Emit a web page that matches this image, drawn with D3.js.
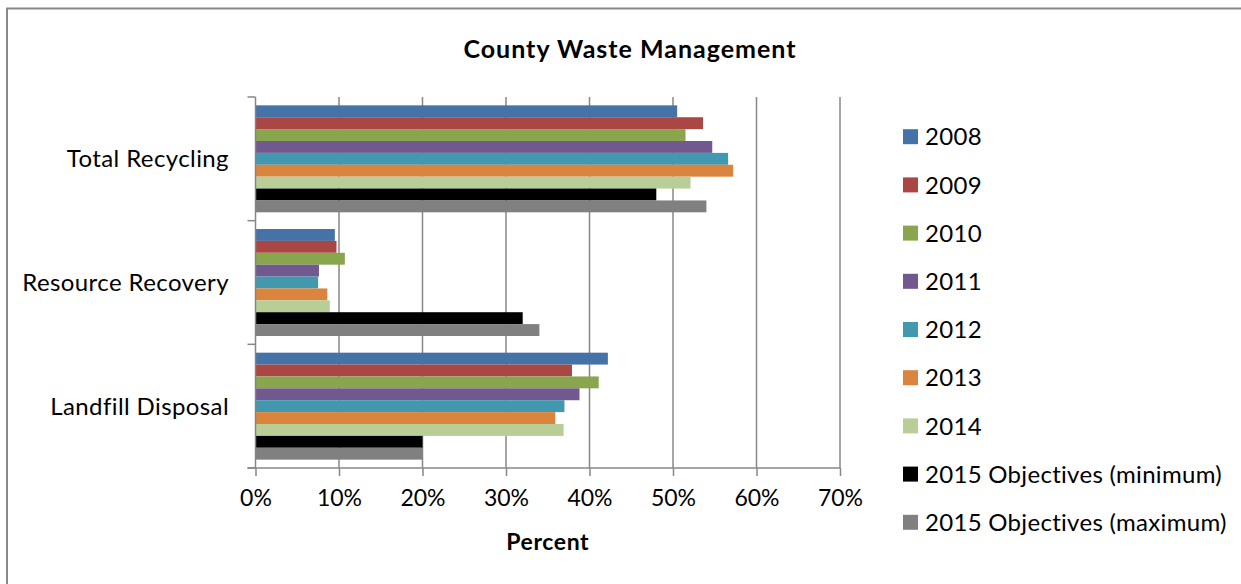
<!DOCTYPE html>
<html>
<head>
<meta charset="utf-8">
<script src="https://cdn.jsdelivr.net/npm/d3@7"></script>
<style>
  html, body { margin: 0; padding: 0; background: #fff; }
  svg { display: block; }
  text { font-family: Lato, "Open Sans", sans-serif; fill: #000; }
</style>
</head>
<body>
<svg id="chart" width="1241" height="584"></svg>
<script>
// Waste streams (top to bottom) and the series drawn in each group
const categories = ["Total Recycling", "Resource Recovery", "Landfill Disposal"];
const seriesNames = ["2008", "2009", "2010", "2011", "2012", "2013", "2014",
  "2015 Objectives (minimum)", "2015 Objectives (maximum)"];
const seriesColors = ["#4572A7", "#AA4643", "#89A54E", "#71588F", "#4198AF",
  "#DB843D", "#B9CD96", "#000000", "#808080"];

// Share of county waste (percent), one array per series, in category order
const v2008 = [50.5, 9.5, 42.2];
const v2009 = [53.6, 9.7, 37.9];
const v2010 = [51.5, 10.7, 41.1];
const v2011 = [54.7, 7.6, 38.8];
const v2012 = [56.6, 7.5, 37.0];
const v2013 = [57.2, 8.6, 35.9];
const v2014 = [52.1, 8.9, 36.9];
const vMin2015 = [48.0, 32.0, 20.0];
const vMax2015 = [54.0, 34.0, 20.0];
const seriesValues = [v2008, v2009, v2010, v2011, v2012, v2013, v2014, vMin2015, vMax2015];

const xTicks = [0, 10, 20, 30, 40, 50, 60, 70];

const svg = d3.select("#chart");
const plot = { left: 255.5, right: 840, top: 97, bottom: 468 };

// Chart frame
svg.append("rect")
  .attr("x", 7).attr("y", 8.5)
  .attr("width", 1300).attr("height", 700)
  .attr("fill", "none").attr("stroke", "#898989").attr("stroke-width", 2);

// Title
svg.append("text")
  .attr("x", 630).attr("y", 58)
  .attr("text-anchor", "middle")
  .style("font-weight", "bold").style("font-size", "25px")
  .style("letter-spacing", "1px")
  .text("County Waste Management");

const x = d3.scaleLinear().domain([0, 70]).range([plot.left, plot.right]);
const y0 = d3.scaleBand().domain(categories)
  .range([plot.top, plot.bottom])
  .paddingInner(0.135).paddingOuter(0.0675);
const y1 = d3.scaleBand().domain(seriesNames).range([0, y0.bandwidth()]);
const color = d3.scaleOrdinal().domain(seriesNames).range(seriesColors);

// Vertical gridlines
svg.append("g").selectAll("line")
  .data(xTicks.filter(t => t > 0))
  .join("line")
  .attr("x1", d => x(d)).attr("x2", d => x(d))
  .attr("y1", plot.top).attr("y2", plot.bottom)
  .attr("stroke", "#878787").attr("stroke-width", 1.5);

// Bars
const groups = svg.append("g").selectAll("g")
  .data(categories)
  .join("g")
  .attr("transform", d => `translate(0,${y0(d)})`);

groups.selectAll("rect")
  .data((c, ci) => seriesNames.map((s, si) => ({ s, v: seriesValues[si][ci] })))
  .join("rect")
  .attr("x", x(0))
  .attr("y", d => y1(d.s))
  .attr("width", d => x(d.v) - x(0))
  .attr("height", y1.bandwidth())
  .attr("fill", d => color(d.s));

// X axis
const xAxis = svg.append("g")
  .attr("transform", `translate(0,${plot.bottom})`)
  .call(d3.axisBottom(x).tickValues(xTicks).tickFormat(d => d + "%")
    .tickSize(8).tickSizeOuter(0).tickPadding(14));
xAxis.select(".domain").attr("stroke", "#878787").attr("stroke-width", 1.5)
  .attr("d", `M${plot.left - 8},0H${plot.right}`);
xAxis.selectAll(".tick line").attr("stroke", "#878787").attr("stroke-width", 1.5);
xAxis.selectAll(".tick text").style("font-size", "23px").attr("fill", "#000")
  .attr("font-family", null);

// Y axis: ticks at the category boundaries
const boundaries = categories.map(c => y0(c) - y0.step() * y0.paddingOuter())
  .concat([plot.bottom]);
const yAxisG = svg.append("g");
yAxisG.append("line")
  .attr("x1", plot.left).attr("x2", plot.left)
  .attr("y1", plot.top).attr("y2", plot.bottom)
  .attr("stroke", "#878787").attr("stroke-width", 1.5);
yAxisG.selectAll("line.tick")
  .data(boundaries)
  .join("line").attr("class", "tick")
  .attr("x1", plot.left - 8).attr("x2", plot.left)
  .attr("y1", d => d).attr("y2", d => d)
  .attr("stroke", "#878787").attr("stroke-width", 1.5);
yAxisG.selectAll("text")
  .data(categories)
  .join("text")
  .attr("x", 229)
  .attr("y", d => y0(d) + y0.bandwidth() / 2)
  .attr("dy", "0.35em")
  .attr("text-anchor", "end")
  .style("font-size", "24px")
  .style("letter-spacing", "0.4px")
  .text(d => d);

// X axis title
svg.append("text")
  .attr("x", (plot.left + plot.right) / 2).attr("y", 550)
  .attr("text-anchor", "middle")
  .style("font-weight", "bold").style("font-size", "23px")
  .style("letter-spacing", "0.6px")
  .text("Percent");

// Legend
const legend = svg.append("g").selectAll("g")
  .data(seriesNames)
  .join("g")
  .attr("transform", (d, i) => `translate(903,${136.7 + i * 48.2})`);
legend.append("rect")
  .attr("x", 0).attr("y", -7.5)
  .attr("width", 15).attr("height", 15)
  .attr("fill", d => color(d));
legend.append("text")
  .attr("x", 22).attr("y", 0).attr("dy", "0.36em")
  .style("font-size", "24px")
  .style("letter-spacing", "0.3px")
  .text(d => d);
</script>
</body>
</html>
